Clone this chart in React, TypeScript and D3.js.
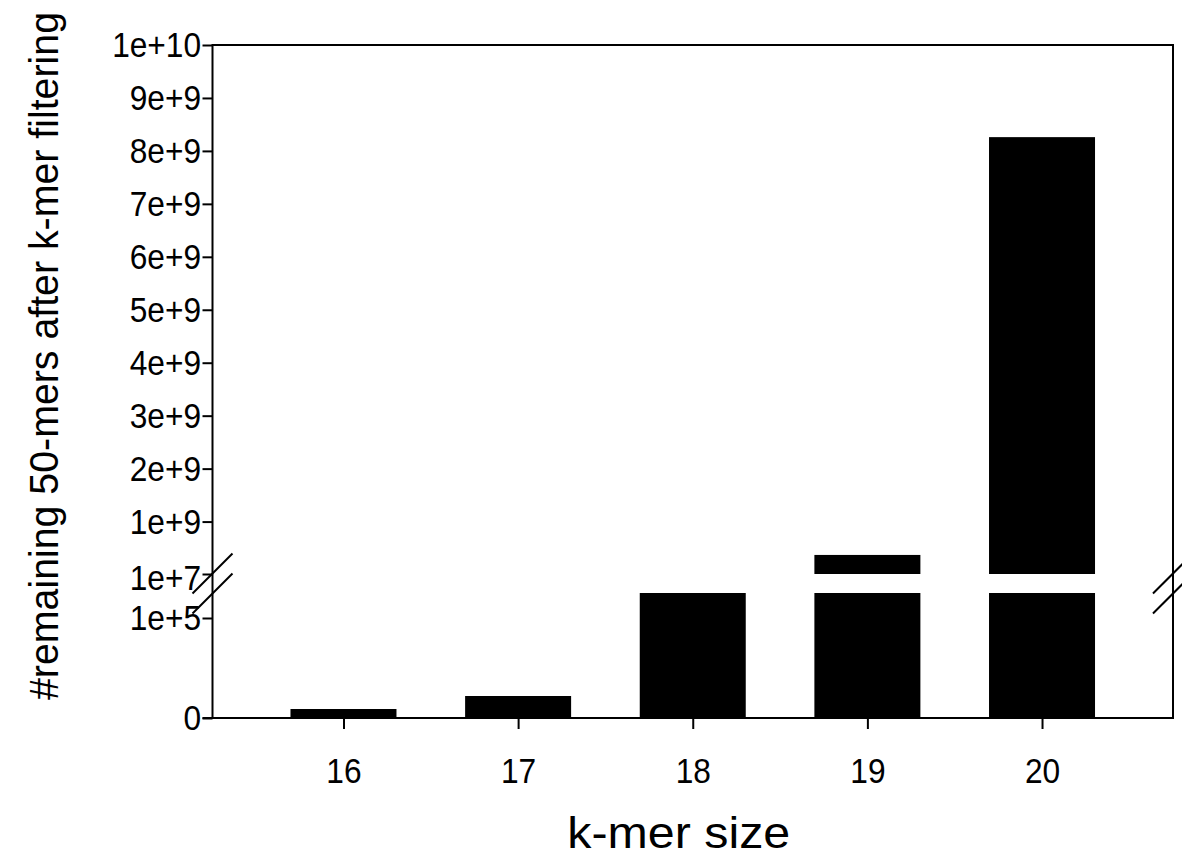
import React, { useEffect, useRef } from 'react';
import * as d3 from 'd3';

// k-mer sizes and remaining 50-mers
const kmerSizes = [16, 17, 18, 19, 20];
const remaining = [9000, 22000, 2000000, 370000000, 8260000000];

const lowerTicks = [0, 100000];
const upperTicks = [1e7, 1e9, 2e9, 3e9, 4e9, 5e9, 6e9, 7e9, 8e9, 9e9, 1e10];

const W = 1182, H = 856;
const left = 212.5, right = 1173, top = 45, bottom = 718;
const gapTop = 574, gapBottom = 593;
const FONT = "'Liberation Sans', Arial, sans-serif";

const App = () => {
  const ref = useRef<SVGSVGElement>(null);

  useEffect(() => {
    const svg = d3.select(ref.current);
    svg.selectAll('*').remove();

    const x = d3.scaleLinear().domain([15.25, 20.75]).range([left, right]);
    const yLow = d3.scaleLinear().domain([0, 125000]).range([bottom, gapBottom]);
    const yUp = d3.scaleLinear().domain([1e7, 1e10]).range([gapTop, top]);
    const barW = 106;

    const fmt = (d: number) => (d === 0 ? '0' : d3.format('.0e')(d));

    // bars, lower segment
    svg.append('g').selectAll('rect')
      .data(remaining)
      .enter().append('rect')
      .attr('x', (d, i) => x(kmerSizes[i]) - barW / 2)
      .attr('width', barW)
      .attr('y', d => yLow(Math.min(d, 125000)))
      .attr('height', d => bottom - yLow(Math.min(d, 125000)))
      .attr('fill', '#000');

    // bars, upper segment
    svg.append('g').selectAll('rect')
      .data(remaining.filter(d => d > 1e7))
      .enter().append('rect')
      .attr('x', d => x(kmerSizes[remaining.indexOf(d)]) - barW / 2)
      .attr('width', barW)
      .attr('y', d => yUp(d))
      .attr('height', d => gapTop - yUp(d))
      .attr('fill', '#000');

    // y axis segments
    const styleAxis = (g: any) => {
      g.select('.domain').remove();
      g.selectAll('line').attr('stroke', '#000').attr('stroke-width', 2);
      g.selectAll('text').attr('font-family', FONT).attr('font-size', 36).attr('fill', '#000')
        .attr('transform', 'scale(0.88,1)');
    };
    svg.append('g').attr('transform', `translate(${left},0)`)
      .call(d3.axisLeft(yLow).tickValues(lowerTicks).tickFormat(fmt as any).tickSize(10).tickPadding(3).tickSizeOuter(0))
      .call(styleAxis);
    const upAxis = svg.append('g').attr('transform', `translate(${left},0)`)
      .call(d3.axisLeft(yUp).tickValues(upperTicks).tickFormat(fmt as any).tickSize(10).tickPadding(3).tickSizeOuter(0))
      .call(styleAxis);
    // the 1e+7 label sits a little low in the original
    upAxis.selectAll('text').filter((d: any) => d === 1e7).attr('y', 4);

    // x axis
    svg.append('g').attr('transform', `translate(0,${bottom})`)
      .call(d3.axisBottom(x).tickValues(kmerSizes).tickFormat(d3.format('d') as any).tickSize(11).tickPadding(28).tickSizeOuter(0))
      .call(styleAxis);

    // frame
    const frame = svg.append('g').attr('stroke', '#000').attr('stroke-width', 2).attr('fill', 'none');
    frame.append('path').attr('d', `M${left},${bottom}V${top}H${right}V${bottom}`);
    frame.append('line').attr('x1', left - 10).attr('x2', right + 1).attr('y1', bottom).attr('y2', bottom);

    // break marks
    const mid = (gapTop + gapBottom) / 2;
    [left, right].forEach(cx => {
      [-10, 10].forEach(off => {
        svg.append('line')
          .attr('x1', cx - 20).attr('y1', mid + off + 20)
          .attr('x2', cx + 20).attr('y2', mid + off - 20)
          .attr('stroke', '#000').attr('stroke-width', 2);
      });
    });

    // axis titles
    svg.append('text')
      .attr('x', (left + right) / 2 - 14).attr('y', 848)
      .attr('text-anchor', 'middle')
      .attr('font-family', FONT).attr('font-size', 44)
      .attr('textLength', 223).attr('lengthAdjust', 'spacingAndGlyphs')
      .text('k-mer size');
    svg.append('text')
      .attr('transform', 'translate(58,356) rotate(-90)')
      .attr('text-anchor', 'middle')
      .attr('font-family', FONT).attr('font-size', 40)
      .attr('textLength', 688).attr('lengthAdjust', 'spacingAndGlyphs')
      .text('#remaining 50-mers after k-mer filtering');
  }, []);

  return (
    <svg ref={ref} width={W} height={H} style={{ position: 'absolute', left: 0, top: 0, background: '#fff' }} />
  );
};

export default App;
